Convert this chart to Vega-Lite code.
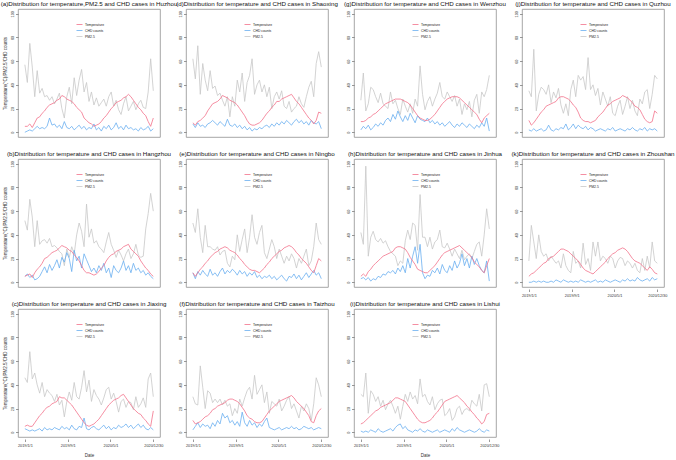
{
  "$schema": "https://vega.github.io/schema/vega-lite/v6.json",
  "padding": {"left": 0, "top": 0, "right": 0, "bottom": 0},
  "background": "white",
  "data": {"values": [
    {"c":"Huzhou","d":"2019/01/01","T":5,"C":0,"P":57},{"c":"Huzhou","d":"2019/01/15","T":5,"C":1,"P":42},{"c":"Huzhou","d":"2019/01/29","T":7,"C":2,"P":75},{"c":"Huzhou","d":"2019/02/12","T":4,"C":1,"P":55},{"c":"Huzhou","d":"2019/02/26","T":8,"C":3,"P":30},{"c":"Huzhou","d":"2019/03/12","T":12,"C":5,"P":52},{"c":"Huzhou","d":"2019/03/26","T":13,"C":3,"P":33},{"c":"Huzhou","d":"2019/04/09","T":16,"C":4,"P":37},{"c":"Huzhou","d":"2019/04/23","T":18,"C":3,"P":30},{"c":"Huzhou","d":"2019/05/07","T":21,"C":5,"P":31},
    {"c":"Huzhou","d":"2019/05/21","T":23,"C":12,"P":27},{"c":"Huzhou","d":"2019/06/04","T":24,"C":6,"P":30},{"c":"Huzhou","d":"2019/06/18","T":25,"C":7,"P":24},{"c":"Huzhou","d":"2019/07/02","T":27,"C":4,"P":28},{"c":"Huzhou","d":"2019/07/16","T":28,"C":6,"P":33},{"c":"Huzhou","d":"2019/07/30","T":31,"C":3,"P":20},{"c":"Huzhou","d":"2019/08/13","T":30,"C":9,"P":12},{"c":"Huzhou","d":"2019/08/27","T":28,"C":4,"P":30},{"c":"Huzhou","d":"2019/09/10","T":27,"C":3,"P":38},{"c":"Huzhou","d":"2019/09/24","T":26,"C":5,"P":24},
    {"c":"Huzhou","d":"2019/10/08","T":24,"C":2,"P":46},{"c":"Huzhou","d":"2019/10/22","T":21,"C":4,"P":31},{"c":"Huzhou","d":"2019/11/05","T":19,"C":6,"P":44},{"c":"Huzhou","d":"2019/11/19","T":17,"C":3,"P":53},{"c":"Huzhou","d":"2019/12/03","T":12,"C":5,"P":34},{"c":"Huzhou","d":"2019/12/17","T":10,"C":2,"P":42},{"c":"Huzhou","d":"2019/12/31","T":8,"C":4,"P":26},{"c":"Huzhou","d":"2020/01/14","T":7,"C":3,"P":34},{"c":"Huzhou","d":"2020/01/28","T":5,"C":7,"P":23},{"c":"Huzhou","d":"2020/02/11","T":6,"C":2,"P":29},
    {"c":"Huzhou","d":"2020/02/25","T":7,"C":4,"P":22},{"c":"Huzhou","d":"2020/03/10","T":9,"C":1,"P":25},{"c":"Huzhou","d":"2020/03/24","T":12,"C":5,"P":28},{"c":"Huzhou","d":"2020/04/07","T":14,"C":3,"P":22},{"c":"Huzhou","d":"2020/04/21","T":17,"C":6,"P":30},{"c":"Huzhou","d":"2020/05/05","T":20,"C":2,"P":34},{"c":"Huzhou","d":"2020/05/19","T":22,"C":4,"P":22},{"c":"Huzhou","d":"2020/06/02","T":25,"C":8,"P":27},{"c":"Huzhou","d":"2020/06/16","T":26,"C":3,"P":19},{"c":"Huzhou","d":"2020/06/30","T":27,"C":5,"P":15},
    {"c":"Huzhou","d":"2020/07/14","T":29,"C":2,"P":24},{"c":"Huzhou","d":"2020/07/28","T":30,"C":6,"P":30},{"c":"Huzhou","d":"2020/08/11","T":32,"C":3,"P":18},{"c":"Huzhou","d":"2020/08/25","T":30,"C":4,"P":22},{"c":"Huzhou","d":"2020/09/08","T":27,"C":2,"P":26},{"c":"Huzhou","d":"2020/09/22","T":24,"C":3,"P":19},{"c":"Huzhou","d":"2020/10/06","T":21,"C":1,"P":24},{"c":"Huzhou","d":"2020/10/20","T":19,"C":4,"P":27},{"c":"Huzhou","d":"2020/11/03","T":16,"C":2,"P":21},{"c":"Huzhou","d":"2020/11/17","T":14,"C":3,"P":20},
    {"c":"Huzhou","d":"2020/12/01","T":9,"C":5,"P":34},{"c":"Huzhou","d":"2020/12/15","T":5,"C":1,"P":62},{"c":"Huzhou","d":"2020/12/30","T":12,"C":3,"P":35},

    {"c":"Shaoxing","d":"2019/01/01","T":8,"C":7,"P":62},{"c":"Shaoxing","d":"2019/01/15","T":6,"C":4,"P":45},{"c":"Shaoxing","d":"2019/01/29","T":9,"C":8,"P":73},{"c":"Shaoxing","d":"2019/02/12","T":10,"C":5,"P":32},{"c":"Shaoxing","d":"2019/02/26","T":12,"C":6,"P":58},{"c":"Shaoxing","d":"2019/03/12","T":14,"C":4,"P":44},{"c":"Shaoxing","d":"2019/03/26","T":18,"C":7,"P":35},{"c":"Shaoxing","d":"2019/04/09","T":21,"C":8,"P":52},{"c":"Shaoxing","d":"2019/04/23","T":24,"C":10,"P":37},{"c":"Shaoxing","d":"2019/05/07","T":25,"C":8,"P":39},
    {"c":"Shaoxing","d":"2019/05/21","T":26,"C":6,"P":31},{"c":"Shaoxing","d":"2019/06/04","T":28,"C":9,"P":33},{"c":"Shaoxing","d":"2019/06/18","T":31,"C":7,"P":27},{"c":"Shaoxing","d":"2019/07/02","T":30,"C":5,"P":22},{"c":"Shaoxing","d":"2019/07/16","T":29,"C":11,"P":30},{"c":"Shaoxing","d":"2019/07/30","T":27,"C":6,"P":13},{"c":"Shaoxing","d":"2019/08/13","T":26,"C":5,"P":30},{"c":"Shaoxing","d":"2019/08/27","T":25,"C":7,"P":22},{"c":"Shaoxing","d":"2019/09/10","T":23,"C":4,"P":44},{"c":"Shaoxing","d":"2019/09/24","T":20,"C":6,"P":34},
    {"c":"Shaoxing","d":"2019/10/08","T":17,"C":3,"P":50},{"c":"Shaoxing","d":"2019/10/22","T":14,"C":5,"P":26},{"c":"Shaoxing","d":"2019/11/05","T":10,"C":2,"P":42},{"c":"Shaoxing","d":"2019/11/19","T":7,"C":4,"P":48},{"c":"Shaoxing","d":"2019/12/03","T":6,"C":1,"P":62},{"c":"Shaoxing","d":"2019/12/17","T":6,"C":3,"P":32},{"c":"Shaoxing","d":"2019/12/31","T":7,"C":2,"P":40},{"c":"Shaoxing","d":"2020/01/14","T":8,"C":4,"P":44},{"c":"Shaoxing","d":"2020/01/28","T":10,"C":3,"P":34},{"c":"Shaoxing","d":"2020/02/11","T":13,"C":5,"P":40},
    {"c":"Shaoxing","d":"2020/02/25","T":16,"C":6,"P":30},{"c":"Shaoxing","d":"2020/03/10","T":18,"C":4,"P":38},{"c":"Shaoxing","d":"2020/03/24","T":21,"C":7,"P":20},{"c":"Shaoxing","d":"2020/04/07","T":23,"C":5,"P":30},{"c":"Shaoxing","d":"2020/04/21","T":26,"C":8,"P":34},{"c":"Shaoxing","d":"2020/05/05","T":26,"C":6,"P":28},{"c":"Shaoxing","d":"2020/05/19","T":28,"C":9,"P":35},{"c":"Shaoxing","d":"2020/06/02","T":29,"C":7,"P":22},{"c":"Shaoxing","d":"2020/06/16","T":30,"C":10,"P":20},{"c":"Shaoxing","d":"2020/06/30","T":31,"C":8,"P":26},
    {"c":"Shaoxing","d":"2020/07/14","T":32,"C":6,"P":17},{"c":"Shaoxing","d":"2020/07/28","T":29,"C":9,"P":20},{"c":"Shaoxing","d":"2020/08/11","T":26,"C":11,"P":22},{"c":"Shaoxing","d":"2020/08/25","T":24,"C":8,"P":30},{"c":"Shaoxing","d":"2020/09/08","T":21,"C":10,"P":24},{"c":"Shaoxing","d":"2020/09/22","T":18,"C":7,"P":21},{"c":"Shaoxing","d":"2020/10/06","T":15,"C":9,"P":30},{"c":"Shaoxing","d":"2020/10/20","T":12,"C":6,"P":38},{"c":"Shaoxing","d":"2020/11/03","T":10,"C":10,"P":43},{"c":"Shaoxing","d":"2020/11/17","T":7,"C":8,"P":30},
    {"c":"Shaoxing","d":"2020/12/01","T":10,"C":7,"P":58},{"c":"Shaoxing","d":"2020/12/15","T":17,"C":9,"P":68},{"c":"Shaoxing","d":"2020/12/30","T":16,"C":3,"P":55},

    {"c":"Wenzhou","d":"2019/01/01","T":9,"C":2,"P":27},{"c":"Wenzhou","d":"2019/01/15","T":9,"C":5,"P":50},{"c":"Wenzhou","d":"2019/01/29","T":10,"C":3,"P":18},{"c":"Wenzhou","d":"2019/02/12","T":12,"C":6,"P":24},{"c":"Wenzhou","d":"2019/02/26","T":13,"C":2,"P":38},{"c":"Wenzhou","d":"2019/03/12","T":15,"C":4,"P":36},{"c":"Wenzhou","d":"2019/03/26","T":16,"C":7,"P":30},{"c":"Wenzhou","d":"2019/04/09","T":18,"C":5,"P":25},{"c":"Wenzhou","d":"2019/04/23","T":20,"C":8,"P":33},{"c":"Wenzhou","d":"2019/05/07","T":22,"C":6,"P":24},
    {"c":"Wenzhou","d":"2019/05/21","T":24,"C":10,"P":22},{"c":"Wenzhou","d":"2019/06/04","T":25,"C":12,"P":20},{"c":"Wenzhou","d":"2019/06/18","T":26,"C":9,"P":34},{"c":"Wenzhou","d":"2019/07/02","T":27,"C":15,"P":24},{"c":"Wenzhou","d":"2019/07/16","T":28,"C":11,"P":27},{"c":"Wenzhou","d":"2019/07/30","T":28,"C":18,"P":20},{"c":"Wenzhou","d":"2019/08/13","T":28,"C":13,"P":15},{"c":"Wenzhou","d":"2019/08/27","T":27,"C":9,"P":28},{"c":"Wenzhou","d":"2019/09/10","T":26,"C":14,"P":22},{"c":"Wenzhou","d":"2019/09/24","T":25,"C":10,"P":17},
    {"c":"Wenzhou","d":"2019/10/08","T":23,"C":16,"P":24},{"c":"Wenzhou","d":"2019/10/22","T":20,"C":12,"P":16},{"c":"Wenzhou","d":"2019/11/05","T":17,"C":8,"P":28},{"c":"Wenzhou","d":"2019/11/19","T":14,"C":14,"P":22},{"c":"Wenzhou","d":"2019/12/03","T":12,"C":11,"P":56},{"c":"Wenzhou","d":"2019/12/17","T":11,"C":10,"P":32},{"c":"Wenzhou","d":"2019/12/31","T":10,"C":9,"P":19},{"c":"Wenzhou","d":"2020/01/14","T":10,"C":12,"P":26},{"c":"Wenzhou","d":"2020/01/28","T":11,"C":8,"P":30},{"c":"Wenzhou","d":"2020/02/11","T":13,"C":10,"P":22},
    {"c":"Wenzhou","d":"2020/02/25","T":15,"C":7,"P":28},{"c":"Wenzhou","d":"2020/03/10","T":18,"C":9,"P":33},{"c":"Wenzhou","d":"2020/03/24","T":21,"C":6,"P":42},{"c":"Wenzhou","d":"2020/04/07","T":24,"C":8,"P":30},{"c":"Wenzhou","d":"2020/04/21","T":26,"C":5,"P":28},{"c":"Wenzhou","d":"2020/05/05","T":28,"C":7,"P":34},{"c":"Wenzhou","d":"2020/05/19","T":29,"C":9,"P":30},{"c":"Wenzhou","d":"2020/06/02","T":30,"C":6,"P":26},{"c":"Wenzhou","d":"2020/06/16","T":30,"C":4,"P":31},{"c":"Wenzhou","d":"2020/06/30","T":30,"C":7,"P":22},
    {"c":"Wenzhou","d":"2020/07/14","T":29,"C":5,"P":28},{"c":"Wenzhou","d":"2020/07/28","T":27,"C":8,"P":15},{"c":"Wenzhou","d":"2020/08/11","T":25,"C":6,"P":24},{"c":"Wenzhou","d":"2020/08/25","T":23,"C":4,"P":19},{"c":"Wenzhou","d":"2020/09/08","T":21,"C":7,"P":26},{"c":"Wenzhou","d":"2020/09/22","T":19,"C":5,"P":13},{"c":"Wenzhou","d":"2020/10/06","T":17,"C":3,"P":27},{"c":"Wenzhou","d":"2020/10/20","T":15,"C":6,"P":32},{"c":"Wenzhou","d":"2020/11/03","T":11,"C":4,"P":16},{"c":"Wenzhou","d":"2020/11/17","T":8,"C":8,"P":34},
    {"c":"Wenzhou","d":"2020/12/01","T":12,"C":5,"P":30},{"c":"Wenzhou","d":"2020/12/15","T":14,"C":12,"P":36},{"c":"Wenzhou","d":"2020/12/30","T":16,"C":1,"P":48},

    {"c":"Quzhou","d":"2019/01/01","T":10,"C":2,"P":35},{"c":"Quzhou","d":"2019/01/15","T":6,"C":1,"P":30},{"c":"Quzhou","d":"2019/01/29","T":8,"C":3,"P":70},{"c":"Quzhou","d":"2019/02/12","T":11,"C":1,"P":18},{"c":"Quzhou","d":"2019/02/26","T":14,"C":2,"P":32},{"c":"Quzhou","d":"2019/03/12","T":17,"C":3,"P":38},{"c":"Quzhou","d":"2019/03/26","T":19,"C":1,"P":36},{"c":"Quzhou","d":"2019/04/09","T":22,"C":2,"P":32},{"c":"Quzhou","d":"2019/04/23","T":23,"C":6,"P":40},{"c":"Quzhou","d":"2019/05/07","T":24,"C":2,"P":25},
    {"c":"Quzhou","d":"2019/05/21","T":25,"C":1,"P":34},{"c":"Quzhou","d":"2019/06/04","T":26,"C":3,"P":29},{"c":"Quzhou","d":"2019/06/18","T":29,"C":2,"P":37},{"c":"Quzhou","d":"2019/07/02","T":30,"C":4,"P":23},{"c":"Quzhou","d":"2019/07/16","T":30,"C":3,"P":16},{"c":"Quzhou","d":"2019/07/30","T":29,"C":7,"P":24},{"c":"Quzhou","d":"2019/08/13","T":28,"C":2,"P":14},{"c":"Quzhou","d":"2019/08/27","T":26,"C":4,"P":36},{"c":"Quzhou","d":"2019/09/10","T":23,"C":7,"P":44},{"c":"Quzhou","d":"2019/09/24","T":21,"C":3,"P":30},
    {"c":"Quzhou","d":"2019/10/08","T":17,"C":6,"P":48},{"c":"Quzhou","d":"2019/10/22","T":12,"C":4,"P":44},{"c":"Quzhou","d":"2019/11/05","T":10,"C":3,"P":47},{"c":"Quzhou","d":"2019/11/19","T":9,"C":5,"P":36},{"c":"Quzhou","d":"2019/12/03","T":9,"C":2,"P":63},{"c":"Quzhou","d":"2019/12/17","T":8,"C":4,"P":36},{"c":"Quzhou","d":"2019/12/31","T":9,"C":3,"P":40},{"c":"Quzhou","d":"2020/01/14","T":10,"C":1,"P":31},{"c":"Quzhou","d":"2020/01/28","T":13,"C":2,"P":37},{"c":"Quzhou","d":"2020/02/11","T":15,"C":3,"P":23},
    {"c":"Quzhou","d":"2020/02/25","T":17,"C":2,"P":34},{"c":"Quzhou","d":"2020/03/10","T":20,"C":1,"P":28},{"c":"Quzhou","d":"2020/03/24","T":23,"C":3,"P":22},{"c":"Quzhou","d":"2020/04/07","T":24,"C":2,"P":30},{"c":"Quzhou","d":"2020/04/21","T":26,"C":4,"P":16},{"c":"Quzhou","d":"2020/05/05","T":27,"C":1,"P":14},{"c":"Quzhou","d":"2020/05/19","T":28,"C":2,"P":22},{"c":"Quzhou","d":"2020/06/02","T":29,"C":3,"P":27},{"c":"Quzhou","d":"2020/06/16","T":31,"C":2,"P":15},{"c":"Quzhou","d":"2020/06/30","T":30,"C":1,"P":22},
    {"c":"Quzhou","d":"2020/07/14","T":29,"C":3,"P":30},{"c":"Quzhou","d":"2020/07/28","T":27,"C":2,"P":20},{"c":"Quzhou","d":"2020/08/11","T":25,"C":4,"P":27},{"c":"Quzhou","d":"2020/08/25","T":22,"C":2,"P":18},{"c":"Quzhou","d":"2020/09/08","T":21,"C":1,"P":14},{"c":"Quzhou","d":"2020/09/22","T":19,"C":3,"P":28},{"c":"Quzhou","d":"2020/10/06","T":15,"C":2,"P":24},{"c":"Quzhou","d":"2020/10/20","T":11,"C":4,"P":34},{"c":"Quzhou","d":"2020/11/03","T":9,"C":1,"P":36},{"c":"Quzhou","d":"2020/11/17","T":8,"C":3,"P":20},
    {"c":"Quzhou","d":"2020/12/01","T":9,"C":2,"P":32},{"c":"Quzhou","d":"2020/12/15","T":18,"C":3,"P":48},{"c":"Quzhou","d":"2020/12/30","T":16,"C":1,"P":45},

    {"c":"Hangzhou","d":"2019/01/01","T":5,"C":5,"P":52},{"c":"Hangzhou","d":"2019/01/15","T":6,"C":7,"P":44},{"c":"Hangzhou","d":"2019/01/29","T":7,"C":4,"P":70},{"c":"Hangzhou","d":"2019/02/12","T":4,"C":6,"P":55},{"c":"Hangzhou","d":"2019/02/26","T":8,"C":2,"P":30},{"c":"Hangzhou","d":"2019/03/12","T":11,"C":3,"P":52},{"c":"Hangzhou","d":"2019/03/26","T":13,"C":5,"P":32},{"c":"Hangzhou","d":"2019/04/09","T":16,"C":9,"P":35},{"c":"Hangzhou","d":"2019/04/23","T":20,"C":13,"P":36},{"c":"Hangzhou","d":"2019/05/07","T":21,"C":8,"P":33},
    {"c":"Hangzhou","d":"2019/05/21","T":23,"C":15,"P":37},{"c":"Hangzhou","d":"2019/06/04","T":25,"C":10,"P":30},{"c":"Hangzhou","d":"2019/06/18","T":26,"C":14,"P":31},{"c":"Hangzhou","d":"2019/07/02","T":27,"C":19,"P":29},{"c":"Hangzhou","d":"2019/07/16","T":29,"C":12,"P":26},{"c":"Hangzhou","d":"2019/07/30","T":31,"C":21,"P":24},{"c":"Hangzhou","d":"2019/08/13","T":30,"C":17,"P":14},{"c":"Hangzhou","d":"2019/08/27","T":29,"C":25,"P":28},{"c":"Hangzhou","d":"2019/09/10","T":27,"C":20,"P":21},{"c":"Hangzhou","d":"2019/09/24","T":26,"C":9,"P":30},
    {"c":"Hangzhou","d":"2019/10/08","T":23,"C":27,"P":24},{"c":"Hangzhou","d":"2019/10/22","T":21,"C":18,"P":40},{"c":"Hangzhou","d":"2019/11/05","T":18,"C":22,"P":50},{"c":"Hangzhou","d":"2019/11/19","T":14,"C":12,"P":43},{"c":"Hangzhou","d":"2019/12/03","T":10,"C":24,"P":30},{"c":"Hangzhou","d":"2019/12/17","T":8,"C":19,"P":66},{"c":"Hangzhou","d":"2019/12/31","T":8,"C":14,"P":38},{"c":"Hangzhou","d":"2020/01/14","T":7,"C":9,"P":45},{"c":"Hangzhou","d":"2020/01/28","T":6,"C":12,"P":33},{"c":"Hangzhou","d":"2020/02/11","T":7,"C":8,"P":35},
    {"c":"Hangzhou","d":"2020/02/25","T":9,"C":14,"P":30},{"c":"Hangzhou","d":"2020/03/10","T":12,"C":10,"P":28},{"c":"Hangzhou","d":"2020/03/24","T":14,"C":16,"P":25},{"c":"Hangzhou","d":"2020/04/07","T":18,"C":8,"P":34},{"c":"Hangzhou","d":"2020/04/21","T":21,"C":12,"P":42},{"c":"Hangzhou","d":"2020/05/05","T":23,"C":4,"P":32},{"c":"Hangzhou","d":"2020/05/19","T":24,"C":14,"P":27},{"c":"Hangzhou","d":"2020/06/02","T":26,"C":10,"P":21},{"c":"Hangzhou","d":"2020/06/16","T":27,"C":8,"P":27},{"c":"Hangzhou","d":"2020/06/30","T":28,"C":12,"P":23},
    {"c":"Hangzhou","d":"2020/07/14","T":30,"C":18,"P":18},{"c":"Hangzhou","d":"2020/07/28","T":31,"C":10,"P":24},{"c":"Hangzhou","d":"2020/08/11","T":32,"C":14,"P":28},{"c":"Hangzhou","d":"2020/08/25","T":28,"C":8,"P":20},{"c":"Hangzhou","d":"2020/09/08","T":26,"C":16,"P":24},{"c":"Hangzhou","d":"2020/09/22","T":24,"C":10,"P":32},{"c":"Hangzhou","d":"2020/10/06","T":22,"C":12,"P":23},{"c":"Hangzhou","d":"2020/10/20","T":18,"C":8,"P":21},{"c":"Hangzhou","d":"2020/11/03","T":15,"C":10,"P":22},{"c":"Hangzhou","d":"2020/11/17","T":12,"C":6,"P":45},
    {"c":"Hangzhou","d":"2020/12/01","T":10,"C":8,"P":58},{"c":"Hangzhou","d":"2020/12/15","T":7,"C":5,"P":75},{"c":"Hangzhou","d":"2020/12/30","T":5,"C":3,"P":60},

    {"c":"Ningbo","d":"2019/01/01","T":8,"C":8,"P":50},{"c":"Ningbo","d":"2019/01/15","T":5,"C":3,"P":42},{"c":"Ningbo","d":"2019/01/29","T":8,"C":9,"P":62},{"c":"Ningbo","d":"2019/02/12","T":11,"C":6,"P":38},{"c":"Ningbo","d":"2019/02/26","T":13,"C":10,"P":25},{"c":"Ningbo","d":"2019/03/12","T":16,"C":7,"P":48},{"c":"Ningbo","d":"2019/03/26","T":18,"C":5,"P":30},{"c":"Ningbo","d":"2019/04/09","T":21,"C":11,"P":30},{"c":"Ningbo","d":"2019/04/23","T":23,"C":6,"P":28},{"c":"Ningbo","d":"2019/05/07","T":25,"C":8,"P":27},
    {"c":"Ningbo","d":"2019/05/21","T":26,"C":5,"P":30},{"c":"Ningbo","d":"2019/06/04","T":28,"C":9,"P":23},{"c":"Ningbo","d":"2019/06/18","T":29,"C":12,"P":26},{"c":"Ningbo","d":"2019/07/02","T":30,"C":7,"P":27},{"c":"Ningbo","d":"2019/07/16","T":29,"C":10,"P":16},{"c":"Ningbo","d":"2019/07/30","T":27,"C":8,"P":13},{"c":"Ningbo","d":"2019/08/13","T":26,"C":11,"P":22},{"c":"Ningbo","d":"2019/08/27","T":25,"C":9,"P":19},{"c":"Ningbo","d":"2019/09/10","T":23,"C":6,"P":40},{"c":"Ningbo","d":"2019/09/24","T":20,"C":10,"P":26},
    {"c":"Ningbo","d":"2019/10/08","T":18,"C":7,"P":36},{"c":"Ningbo","d":"2019/10/22","T":15,"C":9,"P":45},{"c":"Ningbo","d":"2019/11/05","T":13,"C":5,"P":25},{"c":"Ningbo","d":"2019/11/19","T":11,"C":8,"P":38},{"c":"Ningbo","d":"2019/12/03","T":10,"C":6,"P":57},{"c":"Ningbo","d":"2019/12/17","T":10,"C":9,"P":38},{"c":"Ningbo","d":"2019/12/31","T":9,"C":4,"P":32},{"c":"Ningbo","d":"2020/01/14","T":8,"C":6,"P":42},{"c":"Ningbo","d":"2020/01/28","T":10,"C":3,"P":48},{"c":"Ningbo","d":"2020/02/11","T":12,"C":5,"P":25},
    {"c":"Ningbo","d":"2020/02/25","T":15,"C":4,"P":20},{"c":"Ningbo","d":"2020/03/10","T":17,"C":6,"P":28},{"c":"Ningbo","d":"2020/03/24","T":20,"C":3,"P":36},{"c":"Ningbo","d":"2020/04/07","T":22,"C":5,"P":30},{"c":"Ningbo","d":"2020/04/21","T":24,"C":2,"P":20},{"c":"Ningbo","d":"2020/05/05","T":26,"C":4,"P":28},{"c":"Ningbo","d":"2020/05/19","T":27,"C":6,"P":22},{"c":"Ningbo","d":"2020/06/02","T":29,"C":3,"P":16},{"c":"Ningbo","d":"2020/06/16","T":30,"C":1,"P":22},{"c":"Ningbo","d":"2020/06/30","T":31,"C":5,"P":18},
    {"c":"Ningbo","d":"2020/07/14","T":30,"C":4,"P":24},{"c":"Ningbo","d":"2020/07/28","T":28,"C":7,"P":20},{"c":"Ningbo","d":"2020/08/11","T":25,"C":3,"P":12},{"c":"Ningbo","d":"2020/08/25","T":23,"C":6,"P":20},{"c":"Ningbo","d":"2020/09/08","T":20,"C":2,"P":16},{"c":"Ningbo","d":"2020/09/22","T":18,"C":5,"P":22},{"c":"Ningbo","d":"2020/10/06","T":16,"C":8,"P":28},{"c":"Ningbo","d":"2020/10/20","T":13,"C":4,"P":14},{"c":"Ningbo","d":"2020/11/03","T":10,"C":7,"P":18},{"c":"Ningbo","d":"2020/11/17","T":8,"C":10,"P":30},
    {"c":"Ningbo","d":"2020/12/01","T":14,"C":6,"P":50},{"c":"Ningbo","d":"2020/12/15","T":20,"C":8,"P":36},{"c":"Ningbo","d":"2020/12/30","T":18,"C":3,"P":32},

    {"c":"Jinhua","d":"2019/01/01","T":5,"C":3,"P":42},{"c":"Jinhua","d":"2019/01/15","T":7,"C":4,"P":32},{"c":"Jinhua","d":"2019/01/29","T":5,"C":2,"P":98},{"c":"Jinhua","d":"2019/02/12","T":9,"C":4,"P":22},{"c":"Jinhua","d":"2019/02/26","T":11,"C":1,"P":38},{"c":"Jinhua","d":"2019/03/12","T":14,"C":3,"P":43},{"c":"Jinhua","d":"2019/03/26","T":16,"C":2,"P":36},{"c":"Jinhua","d":"2019/04/09","T":18,"C":5,"P":34},{"c":"Jinhua","d":"2019/04/23","T":20,"C":4,"P":37},{"c":"Jinhua","d":"2019/05/07","T":22,"C":7,"P":33},
    {"c":"Jinhua","d":"2019/05/21","T":23,"C":6,"P":35},{"c":"Jinhua","d":"2019/06/04","T":24,"C":9,"P":30},{"c":"Jinhua","d":"2019/06/18","T":25,"C":8,"P":26},{"c":"Jinhua","d":"2019/07/02","T":26,"C":10,"P":24},{"c":"Jinhua","d":"2019/07/16","T":29,"C":7,"P":22},{"c":"Jinhua","d":"2019/07/30","T":30,"C":12,"P":14},{"c":"Jinhua","d":"2019/08/13","T":30,"C":9,"P":18},{"c":"Jinhua","d":"2019/08/27","T":29,"C":14,"P":16},{"c":"Jinhua","d":"2019/09/10","T":28,"C":8,"P":35},{"c":"Jinhua","d":"2019/09/24","T":25,"C":20,"P":44},
    {"c":"Jinhua","d":"2019/10/08","T":21,"C":12,"P":36},{"c":"Jinhua","d":"2019/10/22","T":18,"C":22,"P":50},{"c":"Jinhua","d":"2019/11/05","T":15,"C":30,"P":48},{"c":"Jinhua","d":"2019/11/19","T":11,"C":16,"P":27},{"c":"Jinhua","d":"2019/12/03","T":10,"C":32,"P":74},{"c":"Jinhua","d":"2019/12/17","T":9,"C":8,"P":38},{"c":"Jinhua","d":"2019/12/31","T":8,"C":3,"P":38},{"c":"Jinhua","d":"2020/01/14","T":8,"C":6,"P":30},{"c":"Jinhua","d":"2020/01/28","T":10,"C":5,"P":38},{"c":"Jinhua","d":"2020/02/11","T":12,"C":10,"P":28},
    {"c":"Jinhua","d":"2020/02/25","T":14,"C":8,"P":34},{"c":"Jinhua","d":"2020/03/10","T":17,"C":12,"P":36},{"c":"Jinhua","d":"2020/03/24","T":20,"C":7,"P":44},{"c":"Jinhua","d":"2020/04/07","T":23,"C":15,"P":30},{"c":"Jinhua","d":"2020/04/21","T":25,"C":10,"P":29},{"c":"Jinhua","d":"2020/05/05","T":26,"C":8,"P":33},{"c":"Jinhua","d":"2020/05/19","T":27,"C":14,"P":28},{"c":"Jinhua","d":"2020/06/02","T":28,"C":10,"P":22},{"c":"Jinhua","d":"2020/06/16","T":29,"C":18,"P":28},{"c":"Jinhua","d":"2020/06/30","T":30,"C":12,"P":24},
    {"c":"Jinhua","d":"2020/07/14","T":31,"C":16,"P":20},{"c":"Jinhua","d":"2020/07/28","T":29,"C":24,"P":27},{"c":"Jinhua","d":"2020/08/11","T":27,"C":14,"P":19},{"c":"Jinhua","d":"2020/08/25","T":25,"C":20,"P":22},{"c":"Jinhua","d":"2020/09/08","T":23,"C":12,"P":24},{"c":"Jinhua","d":"2020/09/22","T":21,"C":22,"P":20},{"c":"Jinhua","d":"2020/10/06","T":17,"C":15,"P":26},{"c":"Jinhua","d":"2020/10/20","T":15,"C":20,"P":32},{"c":"Jinhua","d":"2020/11/03","T":13,"C":14,"P":34},{"c":"Jinhua","d":"2020/11/17","T":10,"C":10,"P":22},
    {"c":"Jinhua","d":"2020/12/01","T":8,"C":8,"P":40},{"c":"Jinhua","d":"2020/12/15","T":14,"C":18,"P":62},{"c":"Jinhua","d":"2020/12/30","T":20,"C":1,"P":45},

    {"c":"Zhoushan","d":"2019/01/01","T":5,"C":0,"P":18},{"c":"Zhoushan","d":"2019/01/15","T":7,"C":0,"P":48},{"c":"Zhoushan","d":"2019/01/29","T":8,"C":1,"P":34},{"c":"Zhoushan","d":"2019/02/12","T":10,"C":0,"P":20},{"c":"Zhoushan","d":"2019/02/26","T":12,"C":1,"P":40},{"c":"Zhoushan","d":"2019/03/12","T":14,"C":0,"P":26},{"c":"Zhoushan","d":"2019/03/26","T":16,"C":1,"P":22},{"c":"Zhoushan","d":"2019/04/09","T":17,"C":0,"P":24},{"c":"Zhoushan","d":"2019/04/23","T":20,"C":0,"P":18},{"c":"Zhoushan","d":"2019/05/07","T":21,"C":1,"P":22},
    {"c":"Zhoushan","d":"2019/05/21","T":22,"C":0,"P":19},{"c":"Zhoushan","d":"2019/06/04","T":24,"C":2,"P":16},{"c":"Zhoushan","d":"2019/06/18","T":26,"C":1,"P":18},{"c":"Zhoushan","d":"2019/07/02","T":28,"C":0,"P":12},{"c":"Zhoushan","d":"2019/07/16","T":28,"C":2,"P":24},{"c":"Zhoushan","d":"2019/07/30","T":27,"C":1,"P":14},{"c":"Zhoushan","d":"2019/08/13","T":26,"C":0,"P":10},{"c":"Zhoushan","d":"2019/08/27","T":24,"C":1,"P":8},{"c":"Zhoushan","d":"2019/09/10","T":22,"C":0,"P":26},{"c":"Zhoushan","d":"2019/09/24","T":20,"C":1,"P":16},
    {"c":"Zhoushan","d":"2019/10/08","T":18,"C":0,"P":18},{"c":"Zhoushan","d":"2019/10/22","T":15,"C":2,"P":12},{"c":"Zhoushan","d":"2019/11/05","T":12,"C":1,"P":33},{"c":"Zhoushan","d":"2019/11/19","T":10,"C":0,"P":15},{"c":"Zhoushan","d":"2019/12/03","T":9,"C":1,"P":20},{"c":"Zhoushan","d":"2019/12/17","T":8,"C":0,"P":10},{"c":"Zhoushan","d":"2019/12/31","T":7,"C":1,"P":34},{"c":"Zhoushan","d":"2020/01/14","T":9,"C":2,"P":22},{"c":"Zhoushan","d":"2020/01/28","T":11,"C":0,"P":34},{"c":"Zhoushan","d":"2020/02/11","T":13,"C":1,"P":18},
    {"c":"Zhoushan","d":"2020/02/25","T":15,"C":0,"P":22},{"c":"Zhoushan","d":"2020/03/10","T":17,"C":2,"P":20},{"c":"Zhoushan","d":"2020/03/24","T":20,"C":1,"P":16},{"c":"Zhoushan","d":"2020/04/07","T":22,"C":0,"P":22},{"c":"Zhoushan","d":"2020/04/21","T":24,"C":1,"P":20},{"c":"Zhoushan","d":"2020/05/05","T":25,"C":2,"P":12},{"c":"Zhoushan","d":"2020/05/19","T":27,"C":1,"P":18},{"c":"Zhoushan","d":"2020/06/02","T":28,"C":0,"P":21},{"c":"Zhoushan","d":"2020/06/16","T":29,"C":2,"P":20},{"c":"Zhoushan","d":"2020/06/30","T":28,"C":1,"P":14},
    {"c":"Zhoushan","d":"2020/07/14","T":26,"C":3,"P":18},{"c":"Zhoushan","d":"2020/07/28","T":23,"C":1,"P":16},{"c":"Zhoushan","d":"2020/08/11","T":20,"C":2,"P":12},{"c":"Zhoushan","d":"2020/08/25","T":18,"C":1,"P":16},{"c":"Zhoushan","d":"2020/09/08","T":17,"C":4,"P":10},{"c":"Zhoushan","d":"2020/09/22","T":16,"C":2,"P":8},{"c":"Zhoushan","d":"2020/10/06","T":14,"C":1,"P":20},{"c":"Zhoushan","d":"2020/10/20","T":12,"C":2,"P":10},{"c":"Zhoushan","d":"2020/11/03","T":10,"C":3,"P":22},{"c":"Zhoushan","d":"2020/11/17","T":13,"C":1,"P":12},
    {"c":"Zhoushan","d":"2020/12/01","T":11,"C":4,"P":34},{"c":"Zhoushan","d":"2020/12/15","T":8,"C":2,"P":18},{"c":"Zhoushan","d":"2020/12/30","T":7,"C":3,"P":16},

    {"c":"Jiaxing","d":"2019/01/01","T":5,"C":3,"P":46},{"c":"Jiaxing","d":"2019/01/15","T":6,"C":2,"P":42},{"c":"Jiaxing","d":"2019/01/29","T":5,"C":1,"P":68},{"c":"Jiaxing","d":"2019/02/12","T":5,"C":2,"P":45},{"c":"Jiaxing","d":"2019/02/26","T":8,"C":1,"P":50},{"c":"Jiaxing","d":"2019/03/12","T":11,"C":2,"P":40},{"c":"Jiaxing","d":"2019/03/26","T":14,"C":3,"P":33},{"c":"Jiaxing","d":"2019/04/09","T":16,"C":1,"P":42},{"c":"Jiaxing","d":"2019/04/23","T":19,"C":4,"P":30},{"c":"Jiaxing","d":"2019/05/07","T":21,"C":2,"P":36},
    {"c":"Jiaxing","d":"2019/05/21","T":22,"C":3,"P":33},{"c":"Jiaxing","d":"2019/06/04","T":24,"C":2,"P":31},{"c":"Jiaxing","d":"2019/06/18","T":25,"C":4,"P":26},{"c":"Jiaxing","d":"2019/07/02","T":26,"C":3,"P":32},{"c":"Jiaxing","d":"2019/07/16","T":30,"C":2,"P":23},{"c":"Jiaxing","d":"2019/07/30","T":29,"C":5,"P":27},{"c":"Jiaxing","d":"2019/08/13","T":29,"C":3,"P":13},{"c":"Jiaxing","d":"2019/08/27","T":27,"C":4,"P":26},{"c":"Jiaxing","d":"2019/09/10","T":25,"C":2,"P":34},{"c":"Jiaxing","d":"2019/09/24","T":23,"C":6,"P":27},
    {"c":"Jiaxing","d":"2019/10/08","T":20,"C":3,"P":42},{"c":"Jiaxing","d":"2019/10/22","T":17,"C":2,"P":30},{"c":"Jiaxing","d":"2019/11/05","T":14,"C":5,"P":28},{"c":"Jiaxing","d":"2019/11/19","T":11,"C":4,"P":38},{"c":"Jiaxing","d":"2019/12/03","T":8,"C":12,"P":52},{"c":"Jiaxing","d":"2019/12/17","T":6,"C":3,"P":34},{"c":"Jiaxing","d":"2019/12/31","T":5,"C":2,"P":44},{"c":"Jiaxing","d":"2020/01/14","T":6,"C":4,"P":26},{"c":"Jiaxing","d":"2020/01/28","T":7,"C":5,"P":36},{"c":"Jiaxing","d":"2020/02/11","T":9,"C":3,"P":31},
    {"c":"Jiaxing","d":"2020/02/25","T":11,"C":2,"P":28},{"c":"Jiaxing","d":"2020/03/10","T":14,"C":4,"P":23},{"c":"Jiaxing","d":"2020/03/24","T":17,"C":6,"P":29},{"c":"Jiaxing","d":"2020/04/07","T":20,"C":3,"P":36},{"c":"Jiaxing","d":"2020/04/21","T":23,"C":5,"P":38},{"c":"Jiaxing","d":"2020/05/05","T":25,"C":2,"P":28},{"c":"Jiaxing","d":"2020/05/19","T":27,"C":4,"P":33},{"c":"Jiaxing","d":"2020/06/02","T":28,"C":3,"P":26},{"c":"Jiaxing","d":"2020/06/16","T":29,"C":6,"P":17},{"c":"Jiaxing","d":"2020/06/30","T":31,"C":4,"P":26},
    {"c":"Jiaxing","d":"2020/07/14","T":32,"C":5,"P":28},{"c":"Jiaxing","d":"2020/07/28","T":29,"C":7,"P":21},{"c":"Jiaxing","d":"2020/08/11","T":26,"C":4,"P":26},{"c":"Jiaxing","d":"2020/08/25","T":23,"C":6,"P":25},{"c":"Jiaxing","d":"2020/09/08","T":20,"C":3,"P":19},{"c":"Jiaxing","d":"2020/09/22","T":18,"C":5,"P":30},{"c":"Jiaxing","d":"2020/10/06","T":16,"C":7,"P":21},{"c":"Jiaxing","d":"2020/10/20","T":15,"C":4,"P":24},{"c":"Jiaxing","d":"2020/11/03","T":12,"C":6,"P":29},{"c":"Jiaxing","d":"2020/11/17","T":10,"C":3,"P":21},
    {"c":"Jiaxing","d":"2020/12/01","T":7,"C":2,"P":45},{"c":"Jiaxing","d":"2020/12/15","T":5,"C":4,"P":50},{"c":"Jiaxing","d":"2020/12/30","T":18,"C":2,"P":30},

    {"c":"Taizhou","d":"2019/01/01","T":10,"C":2,"P":30},{"c":"Taizhou","d":"2019/01/15","T":7,"C":5,"P":24},{"c":"Taizhou","d":"2019/01/29","T":8,"C":8,"P":23},{"c":"Taizhou","d":"2019/02/12","T":9,"C":4,"P":56},{"c":"Taizhou","d":"2019/02/26","T":11,"C":7,"P":38},{"c":"Taizhou","d":"2019/03/12","T":13,"C":5,"P":20},{"c":"Taizhou","d":"2019/03/26","T":14,"C":6,"P":35},{"c":"Taizhou","d":"2019/04/09","T":16,"C":3,"P":33},{"c":"Taizhou","d":"2019/04/23","T":19,"C":8,"P":25},{"c":"Taizhou","d":"2019/05/07","T":20,"C":5,"P":28},
    {"c":"Taizhou","d":"2019/05/21","T":22,"C":10,"P":25},{"c":"Taizhou","d":"2019/06/04","T":23,"C":7,"P":28},{"c":"Taizhou","d":"2019/06/18","T":24,"C":16,"P":23},{"c":"Taizhou","d":"2019/07/02","T":25,"C":12,"P":27},{"c":"Taizhou","d":"2019/07/16","T":27,"C":14,"P":22},{"c":"Taizhou","d":"2019/07/30","T":28,"C":8,"P":24},{"c":"Taizhou","d":"2019/08/13","T":28,"C":10,"P":14},{"c":"Taizhou","d":"2019/08/27","T":27,"C":6,"P":20},{"c":"Taizhou","d":"2019/09/10","T":26,"C":9,"P":16},{"c":"Taizhou","d":"2019/09/24","T":24,"C":5,"P":28},
    {"c":"Taizhou","d":"2019/10/08","T":21,"C":17,"P":22},{"c":"Taizhou","d":"2019/10/22","T":18,"C":8,"P":29},{"c":"Taizhou","d":"2019/11/05","T":14,"C":5,"P":35},{"c":"Taizhou","d":"2019/11/19","T":12,"C":10,"P":38},{"c":"Taizhou","d":"2019/12/03","T":11,"C":6,"P":28},{"c":"Taizhou","d":"2019/12/17","T":9,"C":8,"P":48},{"c":"Taizhou","d":"2019/12/31","T":8,"C":4,"P":32},{"c":"Taizhou","d":"2020/01/14","T":8,"C":7,"P":36},{"c":"Taizhou","d":"2020/01/28","T":9,"C":5,"P":40},{"c":"Taizhou","d":"2020/02/11","T":12,"C":9,"P":25},
    {"c":"Taizhou","d":"2020/02/25","T":15,"C":12,"P":34},{"c":"Taizhou","d":"2020/03/10","T":18,"C":4,"P":16},{"c":"Taizhou","d":"2020/03/24","T":20,"C":3,"P":26},{"c":"Taizhou","d":"2020/04/07","T":22,"C":2,"P":24},{"c":"Taizhou","d":"2020/04/21","T":24,"C":3,"P":22},{"c":"Taizhou","d":"2020/05/05","T":26,"C":4,"P":28},{"c":"Taizhou","d":"2020/05/19","T":27,"C":2,"P":18},{"c":"Taizhou","d":"2020/06/02","T":28,"C":3,"P":22},{"c":"Taizhou","d":"2020/06/16","T":29,"C":4,"P":27},{"c":"Taizhou","d":"2020/06/30","T":30,"C":3,"P":30},
    {"c":"Taizhou","d":"2020/07/14","T":31,"C":5,"P":20},{"c":"Taizhou","d":"2020/07/28","T":29,"C":3,"P":24},{"c":"Taizhou","d":"2020/08/11","T":26,"C":4,"P":18},{"c":"Taizhou","d":"2020/08/25","T":24,"C":2,"P":12},{"c":"Taizhou","d":"2020/09/08","T":22,"C":3,"P":22},{"c":"Taizhou","d":"2020/09/22","T":20,"C":5,"P":18},{"c":"Taizhou","d":"2020/10/06","T":17,"C":4,"P":24},{"c":"Taizhou","d":"2020/10/20","T":14,"C":3,"P":20},{"c":"Taizhou","d":"2020/11/03","T":9,"C":4,"P":10},{"c":"Taizhou","d":"2020/11/17","T":8,"C":2,"P":24},
    {"c":"Taizhou","d":"2020/12/01","T":14,"C":3,"P":46},{"c":"Taizhou","d":"2020/12/15","T":18,"C":4,"P":40},{"c":"Taizhou","d":"2020/12/30","T":20,"C":3,"P":30},

    {"c":"Lishui","d":"2019/01/01","T":7,"C":1,"P":32},{"c":"Lishui","d":"2019/01/15","T":8,"C":0,"P":30},{"c":"Lishui","d":"2019/01/29","T":10,"C":1,"P":50},{"c":"Lishui","d":"2019/02/12","T":12,"C":0,"P":16},{"c":"Lishui","d":"2019/02/26","T":14,"C":2,"P":35},{"c":"Lishui","d":"2019/03/12","T":16,"C":1,"P":32},{"c":"Lishui","d":"2019/03/26","T":18,"C":0,"P":26},{"c":"Lishui","d":"2019/04/09","T":19,"C":3,"P":30},{"c":"Lishui","d":"2019/04/23","T":21,"C":1,"P":22},{"c":"Lishui","d":"2019/05/07","T":22,"C":0,"P":27},
    {"c":"Lishui","d":"2019/05/21","T":23,"C":1,"P":19},{"c":"Lishui","d":"2019/06/04","T":24,"C":2,"P":24},{"c":"Lishui","d":"2019/06/18","T":25,"C":3,"P":27},{"c":"Lishui","d":"2019/07/02","T":27,"C":1,"P":22},{"c":"Lishui","d":"2019/07/16","T":29,"C":4,"P":16},{"c":"Lishui","d":"2019/07/30","T":29,"C":6,"P":22},{"c":"Lishui","d":"2019/08/13","T":28,"C":7,"P":11},{"c":"Lishui","d":"2019/08/27","T":27,"C":3,"P":22},{"c":"Lishui","d":"2019/09/10","T":26,"C":5,"P":32},{"c":"Lishui","d":"2019/09/24","T":23,"C":2,"P":26},
    {"c":"Lishui","d":"2019/10/08","T":20,"C":1,"P":34},{"c":"Lishui","d":"2019/10/22","T":17,"C":0,"P":28},{"c":"Lishui","d":"2019/11/05","T":14,"C":2,"P":31},{"c":"Lishui","d":"2019/11/19","T":11,"C":1,"P":24},{"c":"Lishui","d":"2019/12/03","T":9,"C":3,"P":45},{"c":"Lishui","d":"2019/12/17","T":8,"C":1,"P":30},{"c":"Lishui","d":"2019/12/31","T":8,"C":0,"P":32},{"c":"Lishui","d":"2020/01/14","T":9,"C":2,"P":26},{"c":"Lishui","d":"2020/01/28","T":10,"C":1,"P":23},{"c":"Lishui","d":"2020/02/11","T":12,"C":0,"P":30},
    {"c":"Lishui","d":"2020/02/25","T":15,"C":1,"P":19},{"c":"Lishui","d":"2020/03/10","T":17,"C":2,"P":24},{"c":"Lishui","d":"2020/03/24","T":20,"C":0,"P":27},{"c":"Lishui","d":"2020/04/07","T":23,"C":1,"P":28},{"c":"Lishui","d":"2020/04/21","T":26,"C":2,"P":14},{"c":"Lishui","d":"2020/05/05","T":27,"C":1,"P":16},{"c":"Lishui","d":"2020/05/19","T":28,"C":0,"P":20},{"c":"Lishui","d":"2020/06/02","T":29,"C":3,"P":10},{"c":"Lishui","d":"2020/06/16","T":30,"C":1,"P":13},{"c":"Lishui","d":"2020/06/30","T":31,"C":4,"P":20},
    {"c":"Lishui","d":"2020/07/14","T":29,"C":2,"P":22},{"c":"Lishui","d":"2020/07/28","T":27,"C":1,"P":15},{"c":"Lishui","d":"2020/08/11","T":25,"C":0,"P":19},{"c":"Lishui","d":"2020/08/25","T":22,"C":1,"P":20},{"c":"Lishui","d":"2020/09/08","T":20,"C":2,"P":18},{"c":"Lishui","d":"2020/09/22","T":17,"C":1,"P":27},{"c":"Lishui","d":"2020/10/06","T":15,"C":0,"P":24},{"c":"Lishui","d":"2020/10/20","T":12,"C":1,"P":22},{"c":"Lishui","d":"2020/11/03","T":10,"C":3,"P":32},{"c":"Lishui","d":"2020/11/17","T":7,"C":1,"P":18},
    {"c":"Lishui","d":"2020/12/01","T":9,"C":0,"P":40},{"c":"Lishui","d":"2020/12/15","T":15,"C":2,"P":41},{"c":"Lishui","d":"2020/12/30","T":16,"C":1,"P":30}
  ]},
  "columns": 4,
  "spacing": {"row": 22, "column": 26},
  "bounds": "flush",
  "resolve": {"scale": {"color": "independent"}, "legend": {"color": "independent"}},
  "concat": [
    {
      "title": "(a)Distribution for temperature,PM2.5 and CHD cases in Huzhou",
      "transform": [{"filter": "datum.c === 'Huzhou'"}, {"fold": ["P", "C", "T"], "as": ["s", "v"]}],
      "mark": "line",
      "encoding": {
        "x": {"field": "d", "type": "temporal", "scale": {"domain": [{"year": 2018, "month": 11, "date": 23}, {"year": 2021, "month": 2, "date": 6}]}, "axis": null},
        "y": {"field": "v", "type": "quantitative", "scale": {"domain": [-4, 104], "nice": false, "zero": false}, "axis": {"values": [0, 20, 40, 60, 80, 100], "labelAngle": 270, "title": "Temperature(°C)/PM2.5/CHD counts"}},
        "color": {"field": "s", "type": "nominal", "scale": {"domain": ["T", "C", "P"], "range": ["#f3718a", "#6aaff0", "#c8c8c8"]}, "legend": {"title": null, "labelExpr": "datum.value === 'T' ? 'Temperature' : datum.value === 'C' ? 'CHD counts' : 'PM2.5'", "encode": {"symbols": {"update": {"stroke": {"signal": "datum.value === 'P' ? '#444444' : datum.value === 'T' ? '#f3718a' : '#6aaff0'"}}}}}}
      }
    },
    {
      "title": "(d)Distribution for temperature and CHD cases in Shaoxing",
      "transform": [{"filter": "datum.c === 'Shaoxing'"}, {"fold": ["P", "C", "T"], "as": ["s", "v"]}],
      "mark": "line",
      "encoding": {
        "x": {"field": "d", "type": "temporal", "scale": {"domain": [{"year": 2018, "month": 11, "date": 23}, {"year": 2021, "month": 2, "date": 6}]}, "axis": null},
        "y": {"field": "v", "type": "quantitative", "scale": {"domain": [-4, 104], "nice": false, "zero": false}, "axis": {"values": [0, 20, 40, 60, 80, 100], "labelAngle": 270, "title": null}},
        "color": {"field": "s", "type": "nominal", "scale": {"domain": ["T", "C", "P"], "range": ["#f3718a", "#6aaff0", "#c8c8c8"]}, "legend": {"title": null, "labelExpr": "datum.value === 'T' ? 'Temperature' : datum.value === 'C' ? 'CHD counts' : 'PM2.5'", "encode": {"symbols": {"update": {"stroke": {"signal": "datum.value === 'P' ? '#444444' : datum.value === 'T' ? '#f3718a' : '#6aaff0'"}}}}}}
      }
    },
    {
      "title": "(g)Distribution for temperature and CHD cases in Wenzhou",
      "transform": [{"filter": "datum.c === 'Wenzhou'"}, {"fold": ["P", "C", "T"], "as": ["s", "v"]}],
      "mark": "line",
      "encoding": {
        "x": {"field": "d", "type": "temporal", "scale": {"domain": [{"year": 2018, "month": 11, "date": 23}, {"year": 2021, "month": 2, "date": 6}]}, "axis": null},
        "y": {"field": "v", "type": "quantitative", "scale": {"domain": [-4, 104], "nice": false, "zero": false}, "axis": {"values": [0, 20, 40, 60, 80, 100], "labelAngle": 270, "title": null}},
        "color": {"field": "s", "type": "nominal", "scale": {"domain": ["T", "C", "P"], "range": ["#f3718a", "#6aaff0", "#c8c8c8"]}, "legend": {"title": null, "labelExpr": "datum.value === 'T' ? 'Temperature' : datum.value === 'C' ? 'CHD counts' : 'PM2.5'", "encode": {"symbols": {"update": {"stroke": {"signal": "datum.value === 'P' ? '#444444' : datum.value === 'T' ? '#f3718a' : '#6aaff0'"}}}}}}
      }
    },
    {
      "title": "(j)Distribution for temperature and CHD cases in Quzhou",
      "transform": [{"filter": "datum.c === 'Quzhou'"}, {"fold": ["P", "C", "T"], "as": ["s", "v"]}],
      "mark": "line",
      "encoding": {
        "x": {"field": "d", "type": "temporal", "scale": {"domain": [{"year": 2018, "month": 11, "date": 23}, {"year": 2021, "month": 2, "date": 6}]}, "axis": null},
        "y": {"field": "v", "type": "quantitative", "scale": {"domain": [-4, 104], "nice": false, "zero": false}, "axis": {"values": [0, 20, 40, 60, 80, 100], "labelAngle": 270, "title": null}},
        "color": {"field": "s", "type": "nominal", "scale": {"domain": ["T", "C", "P"], "range": ["#f3718a", "#6aaff0", "#c8c8c8"]}, "legend": {"title": null, "labelExpr": "datum.value === 'T' ? 'Temperature' : datum.value === 'C' ? 'CHD counts' : 'PM2.5'", "encode": {"symbols": {"update": {"stroke": {"signal": "datum.value === 'P' ? '#444444' : datum.value === 'T' ? '#f3718a' : '#6aaff0'"}}}}}}
      }
    },
    {
      "title": "(b)Distribution for temperature and CHD cases in Hangzhou",
      "transform": [{"filter": "datum.c === 'Hangzhou'"}, {"fold": ["P", "C", "T"], "as": ["s", "v"]}],
      "mark": "line",
      "encoding": {
        "x": {"field": "d", "type": "temporal", "scale": {"domain": [{"year": 2018, "month": 11, "date": 23}, {"year": 2021, "month": 2, "date": 6}]}, "axis": null},
        "y": {"field": "v", "type": "quantitative", "scale": {"domain": [-4, 104], "nice": false, "zero": false}, "axis": {"values": [0, 20, 40, 60, 80, 100], "labelAngle": 270, "title": "Temperature(°C)/PM2.5/CHD counts"}},
        "color": {"field": "s", "type": "nominal", "scale": {"domain": ["T", "C", "P"], "range": ["#f3718a", "#6aaff0", "#c8c8c8"]}, "legend": {"title": null, "labelExpr": "datum.value === 'T' ? 'Temperature' : datum.value === 'C' ? 'CHD counts' : 'PM2.5'", "encode": {"symbols": {"update": {"stroke": {"signal": "datum.value === 'P' ? '#444444' : datum.value === 'T' ? '#f3718a' : '#6aaff0'"}}}}}}
      }
    },
    {
      "title": "(e)Distribution for temperature and CHD cases in Ningbo",
      "transform": [{"filter": "datum.c === 'Ningbo'"}, {"fold": ["P", "C", "T"], "as": ["s", "v"]}],
      "mark": "line",
      "encoding": {
        "x": {"field": "d", "type": "temporal", "scale": {"domain": [{"year": 2018, "month": 11, "date": 23}, {"year": 2021, "month": 2, "date": 6}]}, "axis": null},
        "y": {"field": "v", "type": "quantitative", "scale": {"domain": [-4, 104], "nice": false, "zero": false}, "axis": {"values": [0, 20, 40, 60, 80, 100], "labelAngle": 270, "title": null}},
        "color": {"field": "s", "type": "nominal", "scale": {"domain": ["T", "C", "P"], "range": ["#f3718a", "#6aaff0", "#c8c8c8"]}, "legend": {"title": null, "labelExpr": "datum.value === 'T' ? 'Temperature' : datum.value === 'C' ? 'CHD counts' : 'PM2.5'", "encode": {"symbols": {"update": {"stroke": {"signal": "datum.value === 'P' ? '#444444' : datum.value === 'T' ? '#f3718a' : '#6aaff0'"}}}}}}
      }
    },
    {
      "title": "(h)Distribution for temperature and CHD cases in Jinhua",
      "transform": [{"filter": "datum.c === 'Jinhua'"}, {"fold": ["P", "C", "T"], "as": ["s", "v"]}],
      "mark": "line",
      "encoding": {
        "x": {"field": "d", "type": "temporal", "scale": {"domain": [{"year": 2018, "month": 11, "date": 23}, {"year": 2021, "month": 2, "date": 6}]}, "axis": null},
        "y": {"field": "v", "type": "quantitative", "scale": {"domain": [-4, 104], "nice": false, "zero": false}, "axis": {"values": [0, 20, 40, 60, 80, 100], "labelAngle": 270, "title": null}},
        "color": {"field": "s", "type": "nominal", "scale": {"domain": ["T", "C", "P"], "range": ["#f3718a", "#6aaff0", "#c8c8c8"]}, "legend": {"title": null, "labelExpr": "datum.value === 'T' ? 'Temperature' : datum.value === 'C' ? 'CHD counts' : 'PM2.5'", "encode": {"symbols": {"update": {"stroke": {"signal": "datum.value === 'P' ? '#444444' : datum.value === 'T' ? '#f3718a' : '#6aaff0'"}}}}}}
      }
    },
    {
      "title": "(k)Distribution for temperature and CHD cases in Zhoushan",
      "transform": [{"filter": "datum.c === 'Zhoushan'"}, {"fold": ["P", "C", "T"], "as": ["s", "v"]}],
      "mark": "line",
      "encoding": {
        "x": {"field": "d", "type": "temporal", "scale": {"domain": [{"year": 2018, "month": 11, "date": 23}, {"year": 2021, "month": 2, "date": 6}]}, "axis": {"values": [{"year": 2019, "month": 1, "date": 1}, {"year": 2019, "month": 9, "date": 1}, {"year": 2020, "month": 5, "date": 1}, {"year": 2020, "month": 12, "date": 30}], "format": "%Y/%-m/%-d", "labelFlush": false, "offset": 2, "labelPadding": 2, "title": null}},
        "y": {"field": "v", "type": "quantitative", "scale": {"domain": [-4, 104], "nice": false, "zero": false}, "axis": {"values": [0, 20, 40, 60, 80, 100], "labelAngle": 270, "title": null}},
        "color": {"field": "s", "type": "nominal", "scale": {"domain": ["T", "C", "P"], "range": ["#f3718a", "#6aaff0", "#c8c8c8"]}, "legend": {"title": null, "labelExpr": "datum.value === 'T' ? 'Temperature' : datum.value === 'C' ? 'CHD counts' : 'PM2.5'", "encode": {"symbols": {"update": {"stroke": {"signal": "datum.value === 'P' ? '#444444' : datum.value === 'T' ? '#f3718a' : '#6aaff0'"}}}}}}
      }
    },
    {
      "title": "(c)Distribution for temperature and CHD cases in Jiaxing",
      "transform": [{"filter": "datum.c === 'Jiaxing'"}, {"fold": ["P", "C", "T"], "as": ["s", "v"]}],
      "mark": "line",
      "encoding": {
        "x": {"field": "d", "type": "temporal", "scale": {"domain": [{"year": 2018, "month": 11, "date": 23}, {"year": 2021, "month": 2, "date": 6}]}, "axis": {"values": [{"year": 2019, "month": 1, "date": 1}, {"year": 2019, "month": 9, "date": 1}, {"year": 2020, "month": 5, "date": 1}, {"year": 2020, "month": 12, "date": 30}], "format": "%Y/%-m/%-d", "labelFlush": false, "offset": 2, "labelPadding": 2, "title": "Date", "titlePadding": 5}},
        "y": {"field": "v", "type": "quantitative", "scale": {"domain": [-4, 104], "nice": false, "zero": false}, "axis": {"values": [0, 20, 40, 60, 80, 100], "labelAngle": 270, "title": "Temperature(°C)/PM2.5/CHD counts"}},
        "color": {"field": "s", "type": "nominal", "scale": {"domain": ["T", "C", "P"], "range": ["#f3718a", "#6aaff0", "#c8c8c8"]}, "legend": {"title": null, "labelExpr": "datum.value === 'T' ? 'Temperature' : datum.value === 'C' ? 'CHD counts' : 'PM2.5'", "encode": {"symbols": {"update": {"stroke": {"signal": "datum.value === 'P' ? '#444444' : datum.value === 'T' ? '#f3718a' : '#6aaff0'"}}}}}}
      }
    },
    {
      "title": "(f)Distribution for temperature and CHD cases in Taizhou",
      "transform": [{"filter": "datum.c === 'Taizhou'"}, {"fold": ["P", "C", "T"], "as": ["s", "v"]}],
      "mark": "line",
      "encoding": {
        "x": {"field": "d", "type": "temporal", "scale": {"domain": [{"year": 2018, "month": 11, "date": 23}, {"year": 2021, "month": 2, "date": 6}]}, "axis": {"values": [{"year": 2019, "month": 1, "date": 1}, {"year": 2019, "month": 9, "date": 1}, {"year": 2020, "month": 5, "date": 1}, {"year": 2020, "month": 12, "date": 30}], "format": "%Y/%-m/%-d", "labelFlush": false, "offset": 2, "labelPadding": 2, "title": null}},
        "y": {"field": "v", "type": "quantitative", "scale": {"domain": [-4, 104], "nice": false, "zero": false}, "axis": {"values": [0, 20, 40, 60, 80, 100], "labelAngle": 270, "title": null}},
        "color": {"field": "s", "type": "nominal", "scale": {"domain": ["T", "C", "P"], "range": ["#f3718a", "#6aaff0", "#c8c8c8"]}, "legend": {"title": null, "labelExpr": "datum.value === 'T' ? 'Temperature' : datum.value === 'C' ? 'CHD counts' : 'PM2.5'", "encode": {"symbols": {"update": {"stroke": {"signal": "datum.value === 'P' ? '#444444' : datum.value === 'T' ? '#f3718a' : '#6aaff0'"}}}}}}
      }
    },
    {
      "title": "(i)Distribution for temperature and CHD cases in Lishui",
      "transform": [{"filter": "datum.c === 'Lishui'"}, {"fold": ["P", "C", "T"], "as": ["s", "v"]}],
      "mark": "line",
      "encoding": {
        "x": {"field": "d", "type": "temporal", "scale": {"domain": [{"year": 2018, "month": 11, "date": 23}, {"year": 2021, "month": 2, "date": 6}]}, "axis": {"values": [{"year": 2019, "month": 1, "date": 1}, {"year": 2019, "month": 9, "date": 1}, {"year": 2020, "month": 5, "date": 1}, {"year": 2020, "month": 12, "date": 30}], "format": "%Y/%-m/%-d", "labelFlush": false, "offset": 2, "labelPadding": 2, "title": "Date", "titlePadding": 5}},
        "y": {"field": "v", "type": "quantitative", "scale": {"domain": [-4, 104], "nice": false, "zero": false}, "axis": {"values": [0, 20, 40, 60, 80, 100], "labelAngle": 270, "title": null}},
        "color": {"field": "s", "type": "nominal", "scale": {"domain": ["T", "C", "P"], "range": ["#f3718a", "#6aaff0", "#c8c8c8"]}, "legend": {"title": null, "labelExpr": "datum.value === 'T' ? 'Temperature' : datum.value === 'C' ? 'CHD counts' : 'PM2.5'", "encode": {"symbols": {"update": {"stroke": {"signal": "datum.value === 'P' ? '#444444' : datum.value === 'T' ? '#f3718a' : '#6aaff0'"}}}}}}
      }
    }
  ],
  "config": {
    "font": "Liberation Sans",
    "view": {"continuousWidth": 142, "continuousHeight": 128, "stroke": "#8f8f8f", "strokeWidth": 0.8},
    "title": {"fontSize": 6.2, "fontWeight": "normal", "color": "#111111", "offset": 1.5, "anchor": "middle"},
    "axis": {"grid": false, "domain": false, "labelFontSize": 3.8, "labelColor": "#333333", "labelPadding": 1, "tickSize": 2.5, "tickColor": "#555555", "tickWidth": 0.6, "titleFontSize": 4.5, "titleFontWeight": "normal", "titleColor": "#333333", "titlePadding": 3},
    "legend": {"orient": "none", "legendX": 58, "legendY": 12, "labelFontSize": 3.4, "labelColor": "#222222", "symbolType": "stroke", "symbolSize": 36, "symbolStrokeWidth": 1, "rowPadding": 0, "padding": 0, "labelOffset": 2},
    "line": {"strokeWidth": 0.8}
  }
}
